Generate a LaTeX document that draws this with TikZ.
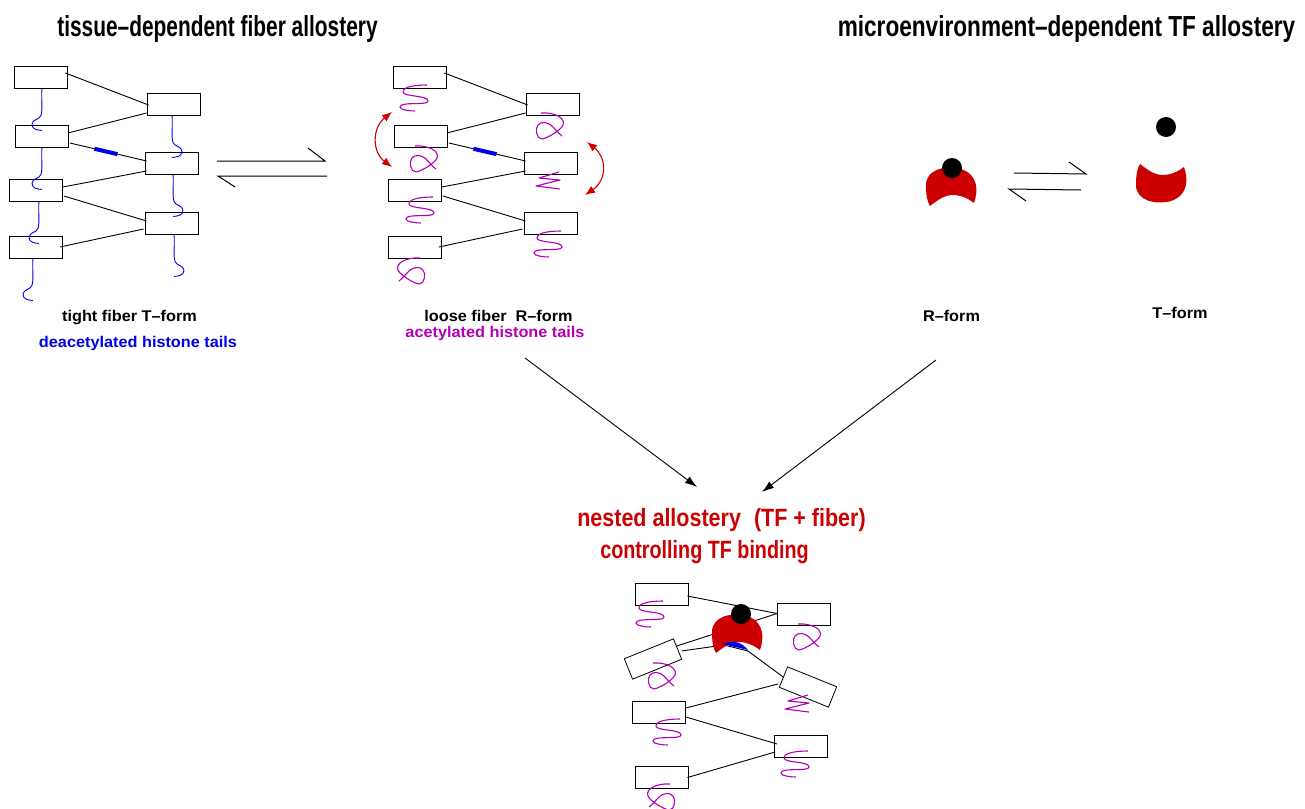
\documentclass[tikz,border=0pt]{standalone}
\usepackage{fontspec}
\setmainfont{Liberation Sans}
\newfontfamily\headfont{Liberation Sans}[FakeStretch=0.72]
\newfontfamily\wideheadfont{Liberation Sans}[FakeStretch=0.78]
\newfontfamily\redfont{Liberation Sans}[FakeStretch=0.86]
\newfontfamily\narrowredfont{Liberation Sans}[FakeStretch=0.79]
\newfontfamily\labelfont{Liberation Sans}[FakeStretch=1.05]
\usetikzlibrary{arrows.meta, calc}

\definecolor{tfred}{RGB}{204,0,0}
\definecolor{tailmag}{RGB}{180,0,180}
\definecolor{tailblue}{RGB}{0,0,230}

\tikzset{
  box/.style={draw, minimum width=53pt, minimum height=22pt, inner sep=0pt, line width=0.8pt},
  link/.style={line width=0.9pt},
  linker/.style={draw=tailblue, line width=4pt},
  deac/.style={draw=tailblue, line width=0.9pt},
  acet/.style={draw=tailmag, line width=1.1pt},
  harpoon/.style={line width=1pt},
  swing/.style={draw=tfred, line width=1.1pt, {Latex[length=10pt,width=8pt]}-{Latex[length=10pt,width=8pt]}},
  flow/.style={line width=0.9pt, -{Latex[length=12pt,width=8pt]}},
  head/.style={anchor=base, inner sep=0pt, font=\headfont\bfseries\fontsize{29}{33}\selectfont},
  lab/.style={anchor=base, inner sep=0pt, font=\labelfont\bfseries\fontsize{15.5}{18}\selectfont},
  redlab/.style={anchor=base, inner sep=0pt, text=tfred, font=\redfont\bfseries\fontsize{25}{29}\selectfont},
  hooktail/.pic={\draw[deac] (0,0) .. controls (-1,10) and (1,20) .. (-1,27) .. controls (-2,31) and (-10,31) .. (-10,36) .. controls (-10,41) and (-4,42) .. (0,42);},
  sinetail/.pic={\draw[acet] (13,-1) .. controls (0,-1) and (-11,1) .. (-11,6) .. controls (-11,11) and (14,9) .. (14,15) .. controls (14,20) and (-14,15) .. (-14,21) .. controls (-14,24) and (-4,25) .. (1,25);},
  zigtail/.pic={\draw[acet, line join=round] (11,0) -- (-9,6) -- (12,8) -- (-12,14) -- (12,17);},
  looptail/.pic={\draw[acet] (5,1) .. controls (18,0) and (30,6) .. (27,13) .. controls (25,18) and (12,26) .. (6,27) .. controls (0,27) and (-1,16) .. (2,13) .. controls (5,9) and (12,10) .. (16,14) .. controls (19,17) and (22,21) .. (26,24);},
  tfbody/.pic={\fill[tfred] (-21,-19) .. controls (-12,-12) and (-6,-8) .. (2,-8) .. controls (10,-8) and (18,-12) .. (23,-16) .. controls (27,-5) and (28,12) .. (10,18) .. controls (-5,22) and (-25,18) .. (-25,2) .. controls (-25,-8) and (-24,-14) .. cycle;}
}

\begin{document}
\begin{tikzpicture}[x=1pt, y=-1pt]
  \useasboundingbox (0,0) rectangle (1305,808);

  % titles
  \node[head] (fibtitle) at (217.5,37) {tissue–dependent fiber allostery};
  \node[head, font=\wideheadfont\bfseries\fontsize{29}{33}\selectfont] (tftitle) at (1066.5,37) {microenvironment–dependent TF allostery};

  % tight and loose fibers
  \foreach \f/\dx in {t/0, l/379}
  {
    \node[box] (\f-l1) at (40.5+\dx,77) {};
    \node[box] (\f-l2) at (42+\dx,136) {};
    \node[box] (\f-l3) at (36+\dx,190) {};
    \node[box] (\f-l4) at (36+\dx,247) {};
    \node[box] (\f-r1) at (173.5+\dx,104) {};
    \node[box] (\f-r2) at (171.5+\dx,163) {};
    \node[box] (\f-r3) at (171.5+\dx,223) {};
    \draw[link] ($(\f-l1.east)+(-2,-4)$) -- ($(\f-r1.west)+(2,1)$);
    \draw[link] ($(\f-r1.west)+(0,9)$) -- ($(\f-l2.east)+(-1,-3)$);
    \draw[link] ($(\f-l2.east)+(1,7)$) coordinate (\f-a) -- ($(\f-r2.west)+(2,-2)$) coordinate (\f-b);
    \draw[linker] ($(\f-a)!0.32!(\f-b)$) -- ($(\f-a)!0.62!(\f-b)$);
    \draw[link] ($(\f-r2.west)+(2,8)$) -- ($(\f-l3.east)+(0,-3)$);
    \draw[link] ($(\f-l3.east)+(1,6)$) -- ($(\f-r3.west)+(2,-2)$);
    \draw[link] ($(\f-r3.west)+(-1,6)$) -- ($(\f-l4.east)+(-3,0)$);
  }

  % deacetylated tails
  \pic at ($(t-l1.south)+(1.5,0)$) {hooktail};
  \pic at (t-l2.south) {hooktail};
  \pic at ($(t-l3.south)+(3,0)$) {hooktail};
  \pic at ($(t-l4.south)+(-3,0)$) {hooktail};
  \pic[xscale=-1] at ($(t-r1.south)+(-1.5,0)$) {hooktail};
  \pic[xscale=-1] at ($(t-r2.south)+(1.5,0)$) {hooktail};
  \pic[xscale=-1] at ($(t-r3.south)+(2.5,0)$) {hooktail};

  % acetylated tails
  \pic at (414,86) {sinetail};
  \pic at (410,145) {looptail};
  \pic at (420,198) {sinetail};
  \pic[xscale=-1] at (425,257) {looptail};
  \pic at (536,112) {looptail};
  \pic at (548,172) {zigtail};
  \pic at (548,232) {sinetail};

  % breathing of the loose fiber
  \draw[swing] (392,112) .. controls (372,128) and (372,152) .. (392,167);
  \draw[swing] (587,142) .. controls (607,158) and (607,180) .. (585,195);

  % equilibria
  \draw[harpoon] (217,161) -- (325,161) -- (308,148);
  \draw[harpoon] (327,176) -- (218,176) -- (235,187);
  \draw[harpoon] (1014,173) -- (1086,174) -- (1069,162);
  \draw[harpoon] (1081,190) -- (1009,189) -- (1026,201);

  % TF in R-form and T-form
  \pic[yscale=-1] at (951,187) {tfbody};
  \fill (952,168) circle (10);
  \pic at (1161,183) {tfbody};
  \fill (1166,127) circle (10);

  % labels
  \node[lab] (tightlab) at (129.5,321) {tight fiber T–form};
  \node[lab, text=tailblue] (deaclab) at (138,347) {deacetylated histone tails};
  \node[lab] (looselab) at (498.5,321) {loose fiber\ \ R–form};
  \node[lab, text=tailmag] (acetlab) at (495,337) {acetylated histone tails};
  \node[lab] (rlab) at (951.5,321) {R–form};
  \node[lab] (tlab) at (1180,318) {T–form};

  \node[redlab] (nested) at (721.5,526) {nested allostery\hspace{13pt}(TF + fiber)};
  \node[redlab, font=\narrowredfont\bfseries\fontsize{25}{29}\selectfont] (control) at (704.5,558) {controlling TF binding};

  \coordinate (fibfrom) at (525,358);
  \coordinate (fibto) at (697,487);
  \coordinate (tffrom) at (936,360);
  \coordinate (tfto) at (762,492);
  \draw[flow] (fibfrom) -- (fibto);
  \draw[flow] (tffrom) -- (tfto);

  % nested fiber with bound TF
  \node[box] (n-l1) at (661.5,594) {};
  \node[box] (n-r1) at (804,614.5) {};
  \node[box, rotate=22] (n-l2) at (653,659) {};
  \node[box, rotate=-22] (n-r2) at (808,687) {};
  \node[box] (n-l3) at (659,712) {};
  \node[box] (n-r3) at (801,746) {};
  \node[box] (n-l4) at (661.5,777.5) {};
  \draw[link] ($(n-l1.east)+(-1,2)$) -- ($(n-r1.west)+(0,-1)$);
  \draw[link] ($(n-r1.west)+(0,-1)$) -- ($(n-l2.east)+(-1,-3)$);
  \draw[link] ($(n-l2.east)+(4,2)$) -- (724,645) -- (748,651) -- (n-r2.west);
  \draw[link] ($(n-r2.west)+(-5,7)$) -- ($(n-l3.east)+(0,-4)$);
  \draw[link] ($(n-l3.east)+(0,5)$) -- ($(n-r3.west)+(3,-2)$);
  \draw[link] ($(n-r3.west)+(1,6)$) -- ($(n-l4.east)+(-1,0)$);
  \pic[yscale=-1] at (737,634) {tfbody};
  \fill[tailblue] (723,644) .. controls (735,639) and (742,643) .. (748,650) .. controls (740,648) and (730,646) .. cycle;
  \fill (741,614) circle (10);

  \pic at (650,602) {sinetail};
  \pic at (793,623) {looptail};
  \pic at (648,662) {looptail};
  \pic at (797,695) {zigtail};
  \pic at (667,720) {sinetail};
  \pic at (795,752) {sinetail};
  \pic[xscale=-1] at (675,783) {looptail};
\end{tikzpicture}
\end{document}
